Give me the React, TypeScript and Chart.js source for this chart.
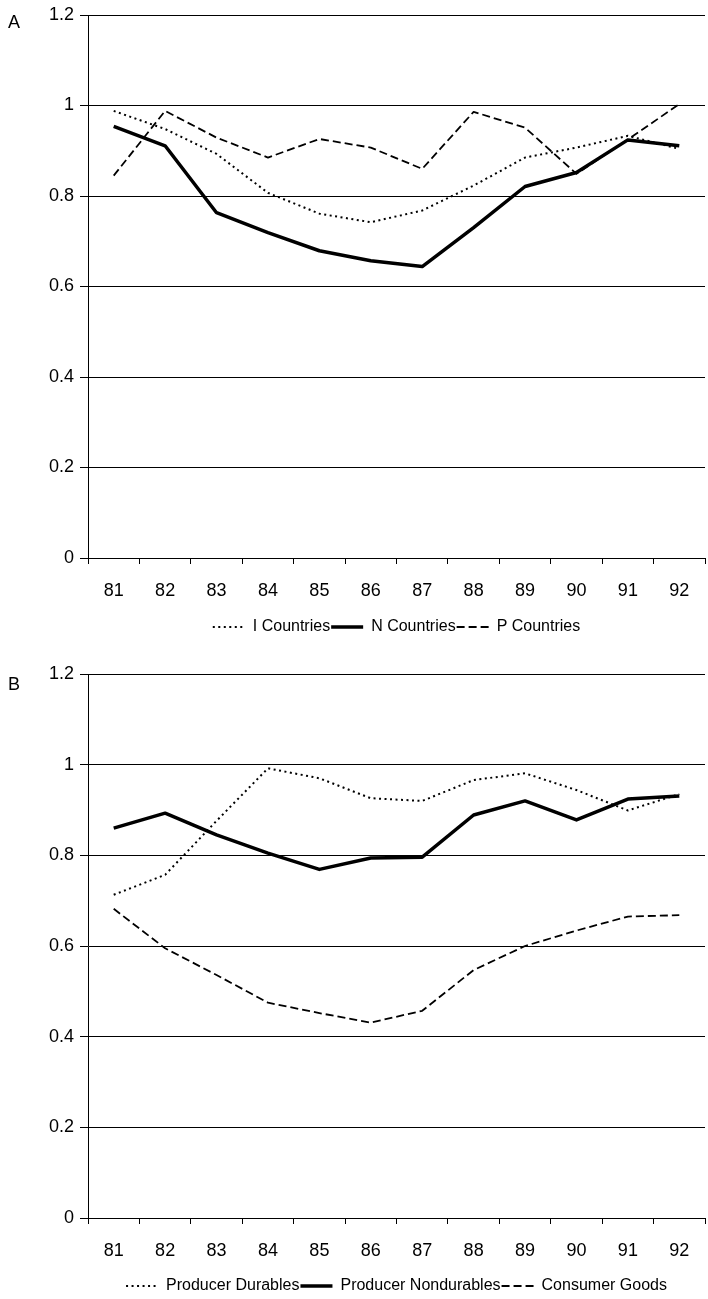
import React, { useEffect, useRef } from "react";
import { Chart, registerables } from "chart.js";

Chart.register(...registerables);

const years = ["81", "82", "83", "84", "85", "86", "87", "88", "89", "90", "91", "92"];

const iCountries = [0.988, 0.948, 0.893, 0.807, 0.761, 0.742, 0.768, 0.823, 0.885, 0.907, 0.933, 0.904];
const nCountries = [0.954, 0.911, 0.763, 0.719, 0.679, 0.657, 0.644, 0.73, 0.821, 0.852, 0.924, 0.911];
const pCountries = [0.845, 0.988, 0.929, 0.885, 0.926, 0.907, 0.86, 0.986, 0.951, 0.849, 0.925, 1.003];

const producerDurables = [0.713, 0.757, 0.876, 0.992, 0.97, 0.926, 0.92, 0.966, 0.981, 0.944, 0.899, 0.935];
const producerNondurables = [0.86, 0.893, 0.845, 0.805, 0.769, 0.794, 0.796, 0.889, 0.92, 0.878, 0.924, 0.931];
const consumerGoods = [0.682, 0.595, 0.536, 0.475, 0.452, 0.431, 0.457, 0.547, 0.6, 0.634, 0.665, 0.668];

const FONT = "'Liberation Sans', Arial, Helvetica, sans-serif";

type Series = { label: string; data: number[]; style: "dotted" | "solid" | "dashed" };

const panelA: Series[] = [
  { label: "I Countries", data: iCountries, style: "dotted" },
  { label: "N Countries", data: nCountries, style: "solid" },
  { label: "P Countries", data: pCountries, style: "dashed" },
];

const panelB: Series[] = [
  { label: "Producer Durables", data: producerDurables, style: "dotted" },
  { label: "Producer Nondurables", data: producerNondurables, style: "solid" },
  { label: "Consumer Goods", data: consumerGoods, style: "dashed" },
];

function styleFor(s: Series["style"]) {
  if (s === "solid") return { borderWidth: 3.5, borderDash: [] as number[] };
  if (s === "dotted") return { borderWidth: 2, borderDash: [2, 3.5] };
  return { borderWidth: 1.8, borderDash: [8, 4] };
}

type PanelProps = {
  series: Series[];
  top: number;
  height: number;
  padTop: number;
  xHeight: number;
  letter: string;
  letterTop: number;
};

function Panel({ series, top, height, padTop, xHeight, letter, letterTop }: PanelProps) {
  const ref = useRef<HTMLCanvasElement | null>(null);
  const width = 708;
  useEffect(() => {
    if (!ref.current) return;
    const chart = new Chart(ref.current, {
      type: "line",
      data: {
        labels: years,
        datasets: series.map((s) => ({
          label: s.label,
          data: s.data,
          borderColor: "#000",
          backgroundColor: "#000",
          pointRadius: 0,
          pointHoverRadius: 0,
          tension: 0,
          fill: false,
          borderJoinStyle: "round" as const,
          ...styleFor(s.style),
        })),
      },
      options: {
        responsive: false,
        animation: false,
        events: [],
        layout: { padding: { top: padTop, right: 3, bottom: -5, left: 0 } },
        plugins: {
          tooltip: { enabled: false },
          legend: {
            position: "bottom",
            fullSize: false,
            labels: {
              usePointStyle: true,
              pointStyle: "line",
              pointStyleWidth: 32,
              boxHeight: 16,
              padding: 1,
              color: "#000",
              font: { family: FONT, size: 16 },
              generateLabels: (c: any) =>
                c.data.datasets.map((ds: any, i: number) => ({
                  text: ds.label,
                  fillStyle: "#000",
                  strokeStyle: "#000",
                  fontColor: "#000",
                  lineWidth: ds.borderWidth,
                  lineDash: ds.borderDash,
                  lineCap: "butt",
                  pointStyle: "line",
                  hidden: false,
                  datasetIndex: i,
                })),
            },
          },
        },
        scales: {
          x: {
            type: "category",
            offset: true,
            grid: {
              display: true,
              offset: true,
              drawOnChartArea: false,
              drawTicks: true,
              tickLength: 6,
              color: "#000",
            },
            border: { display: true, color: "#000", width: 1 },
            ticks: { color: "#000", padding: 16, font: { family: FONT, size: 18 } },
            afterFit: (scale: any) => {
              scale.height = xHeight;
            },
          },
          y: {
            min: 0,
            max: 1.2,
            ticks: {
              stepSize: 0.2,
              color: "#000",
              padding: 6,
              font: { family: FONT, size: 18, lineHeight: 1 },
              callback: (v: any) => String(Math.round(Number(v) * 10) / 10),
            },
            grid: { color: "#000", lineWidth: 1, tickLength: 8, drawTicks: true },
            border: { display: true, color: "#000", width: 1 },
            afterFit: (scale: any) => {
              scale.width = 88;
            },
          },
        },
      },
    });
    return () => chart.destroy();
  }, [series]);
  return (
    <div style={{ position: "absolute", left: 0, top, width, height }}>
      <canvas ref={ref} width={width} height={height} style={{ width, height, display: "block" }} />
      <div
        style={{
          position: "absolute",
          left: 8,
          top: letterTop,
          fontFamily: FONT,
          fontSize: 18,
          lineHeight: 1,
          color: "#000",
        }}
      >
        {letter}
      </div>
    </div>
  );
}

export default function App() {
  return (
    <div style={{ position: "absolute", left: 0, top: 0, width: 708, height: 1299, background: "#fff" }}>
      <Panel series={panelA} top={0} height={640} padTop={14} xHeight={60} letter="A" letterTop={13} />
      <Panel series={panelB} top={640} height={659} padTop={34} xHeight={59} letter="B" letterTop={35} />
    </div>
  );
}
